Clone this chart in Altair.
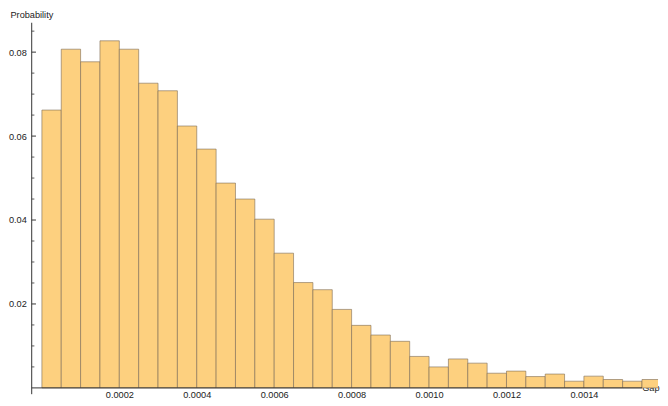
import altair as alt
import pandas as pd

bin_start = [0.00000, 0.00005, 0.00010, 0.00015, 0.00020, 0.00025, 0.00030, 0.00035,
             0.00040, 0.00045, 0.00050, 0.00055, 0.00060, 0.00065, 0.00070, 0.00075,
             0.00080, 0.00085, 0.00090, 0.00095, 0.00100, 0.00105, 0.00110, 0.00115,
             0.00120, 0.00125, 0.00130, 0.00135, 0.00140, 0.00145, 0.00150, 0.00155]
bin_end = [0.00005, 0.00010, 0.00015, 0.00020, 0.00025, 0.00030, 0.00035, 0.00040,
           0.00045, 0.00050, 0.00055, 0.00060, 0.00065, 0.00070, 0.00075, 0.00080,
           0.00085, 0.00090, 0.00095, 0.00100, 0.00105, 0.00110, 0.00115, 0.00120,
           0.00125, 0.00130, 0.00135, 0.00140, 0.00145, 0.00150, 0.00155, 0.00160]
probability = [0.0662, 0.0807, 0.0777, 0.0827, 0.0807, 0.0726, 0.0708, 0.0624,
               0.0569, 0.0488, 0.0450, 0.0402, 0.0321, 0.0251, 0.0234, 0.0187,
               0.0149, 0.0126, 0.0111, 0.0075, 0.0050, 0.0069, 0.0059, 0.0035,
               0.0040, 0.0027, 0.0033, 0.0016, 0.0028, 0.0020, 0.0016, 0.0020]

x_tick_labels = [0.0002, 0.0004, 0.0006, 0.0008, 0.0010, 0.0012, 0.0014]
y_major = [0.02, 0.04, 0.06, 0.08]
y_minor = [0.005, 0.01, 0.015, 0.025, 0.03, 0.035, 0.045, 0.05, 0.055,
           0.065, 0.07, 0.075, 0.085]

X_MIN, X_MAX = -0.0000263, 0.0015914
Y_MIN, Y_MAX = -0.0015, 0.087
X_AXIS_END = 0.00155

FONT = "Liberation Sans"
TXT = "#222222"

bars_df = pd.DataFrame({"start": bin_start, "end": bin_end, "p": probability})

xscale = alt.Scale(domain=[X_MIN, X_MAX], nice=False, zero=False)
yscale = alt.Scale(domain=[Y_MIN, Y_MAX], nice=False, zero=False)

bars = alt.Chart(bars_df).mark_rect(
    fill="#FDD07F", stroke="#7a6a55", strokeWidth=0.8, strokeOpacity=0.75, clip=True
).encode(
    x=alt.X("start:Q", scale=xscale,
            axis=alt.Axis(values=x_tick_labels, format=".4f", ticks=False, domain=False,
                          grid=False, offset=-6.4, labelPadding=3, labelFont=FONT,
                          labelFontSize=9.3, labelColor=TXT, title="Gap",
                          titleFont=FONT, titleFontSize=9.3, titleFontWeight="normal",
                          titleColor=TXT, titleAlign="left", titleBaseline="middle",
                          titleAnchor="start", titleX=617.5, titleY=0)),
    x2="end:Q",
    y=alt.Y("p:Q", scale=yscale,
            axis=alt.Axis(values=y_major, format=".2f", ticks=False, domain=False,
                          grid=False, labelPadding=5.5, labelFont=FONT, labelFontSize=9.3,
                          labelColor=TXT, title="Probability", titleAngle=0,
                          titleFont=FONT, titleFontSize=9.3, titleFontWeight="normal",
                          titleColor=TXT, titleAlign="left", titleBaseline="top",
                          titleAnchor="start", titleX=-22, titleY=-12)),
    y2=alt.datum(0),
)

axis_col = "#333333"

x_line = alt.Chart(pd.DataFrame({"a": [X_MIN], "b": [X_AXIS_END], "y": [0.0]})).mark_rule(
    color=axis_col, strokeWidth=1
).encode(x=alt.X("a:Q", scale=xscale), x2="b:Q", y=alt.Y("y:Q", scale=yscale))

y_line = alt.Chart(pd.DataFrame({"x": [X_MIN], "a": [Y_MIN], "b": [Y_MAX]})).mark_rule(
    color=axis_col, strokeWidth=1
).encode(x=alt.X("x:Q", scale=xscale), y=alt.Y("a:Q", scale=yscale), y2="b:Q")

y_major_ticks = alt.Chart(pd.DataFrame({"v": y_major})).mark_rule(
    color=axis_col, strokeWidth=1
).encode(x=alt.value(0), x2=alt.value(4.3), y=alt.Y("v:Q", scale=yscale))

y_minor_ticks = alt.Chart(pd.DataFrame({"v": y_minor})).mark_rule(
    color=axis_col, strokeWidth=0.8
).encode(x=alt.value(0), x2=alt.value(2.7), y=alt.Y("v:Q", scale=yscale))

chart = alt.layer(bars, x_line, y_line, y_major_ticks, y_minor_ticks).properties(
    width=634, height=376,
    background="white",
    autosize=alt.AutoSizeParams(type="none"),
    padding={"left": 24, "top": 12.5, "right": 2, "bottom": 9},
).configure_view(strokeWidth=0, stroke="transparent")

chart.save("out.html", embed_options={"renderer": "svg", "actions": False})
